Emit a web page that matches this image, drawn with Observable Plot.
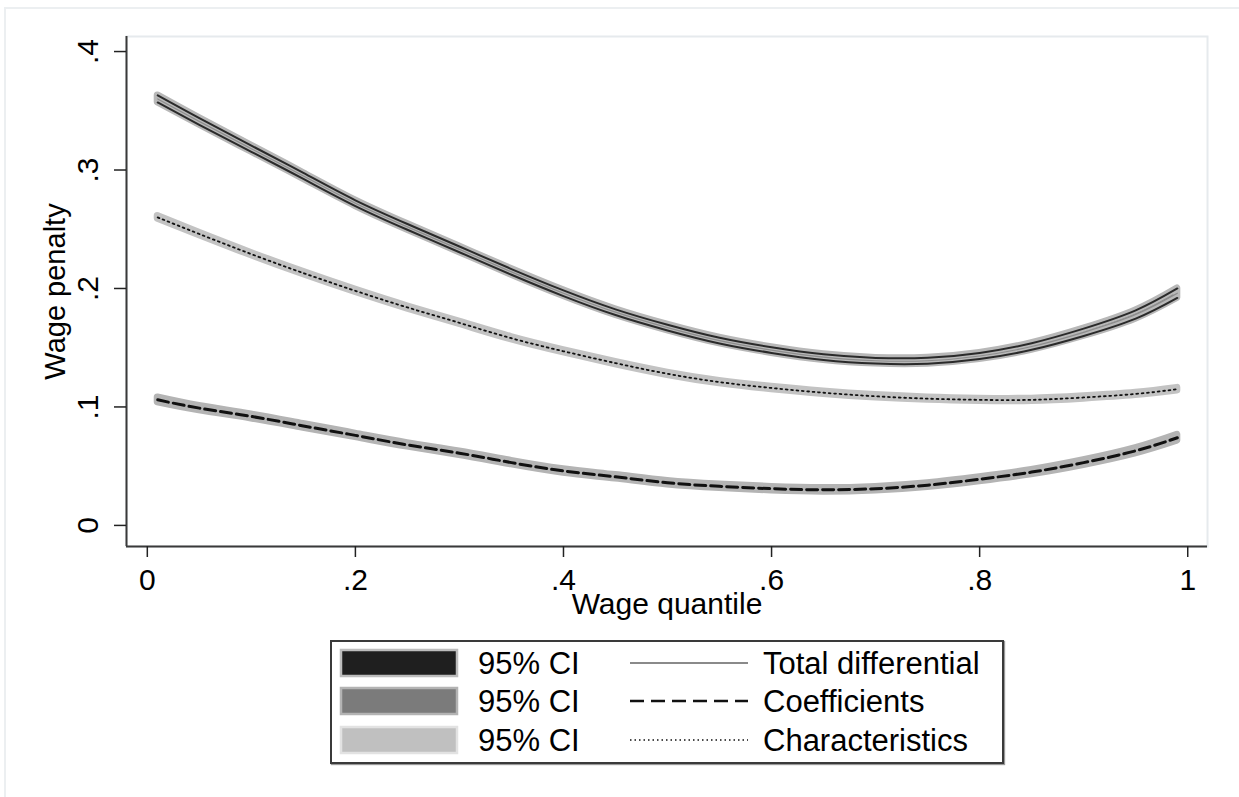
<!DOCTYPE html>
<html><head><meta charset="utf-8">
<script src="https://cdn.jsdelivr.net/npm/d3@7"></script>
<script src="https://cdn.jsdelivr.net/npm/@observablehq/plot@0.6"></script>
<style>
body{margin:0;background:#fff;font-family:"Liberation Sans",Arial,sans-serif;}
#wrap{position:relative;width:1239px;height:797px;overflow:hidden;background:#fff;}
#outer{position:absolute;left:4px;top:7px;width:1240px;height:800px;border:2px solid #eceff1;box-sizing:border-box;}
#chart{position:absolute;left:0;top:0;}
#legend{position:absolute;left:330px;top:640px;width:674px;height:124px;border:2px solid #3a3a3a;box-shadow:1px 1px 1px #999;box-sizing:border-box;background:#fff;}
#legend svg{position:absolute;left:-2px;top:-2px;overflow:visible;}
</style></head>
<body>
<div id="wrap"><div id="outer"></div><div id="chart"></div><div id="legend"></div></div>
<script>
// ---- data ----
const quantiles = [0.01,0.05,0.10,0.15,0.20,0.25,0.30,0.35,0.40,0.45,0.50,0.55,0.60,0.65,0.70,0.75,0.80,0.85,0.90,0.95,0.99];
const totalDifferential = [0.360,0.341,0.318,0.295,0.272,0.252,0.233,0.214,0.196,0.180,0.167,0.156,0.148,0.142,0.139,0.139,0.143,0.151,0.163,0.178,0.196];
const totalCI = [0.0030,0.0028,0.0026,0.0025,0.0024,0.0024,0.0024,0.0024,0.0024,0.0024,0.0024,0.0024,0.0024,0.0024,0.0024,0.0025,0.0026,0.0028,0.0031,0.0035,0.0040];
const coefficients = [0.106,0.099,0.092,0.084,0.076,0.068,0.061,0.053,0.046,0.041,0.036,0.033,0.031,0.030,0.031,0.034,0.039,0.045,0.053,0.063,0.074];
const coefficientsCI = [0.0020,0.0018,0.0017,0.0016,0.0015,0.0015,0.0015,0.0015,0.0015,0.0015,0.0015,0.0015,0.0015,0.0015,0.0015,0.0016,0.0017,0.0018,0.0020,0.0022,0.0025];
const characteristics = [0.260,0.246,0.229,0.213,0.198,0.184,0.171,0.158,0.147,0.137,0.128,0.121,0.116,0.112,0.109,0.107,0.106,0.106,0.108,0.111,0.115];
const characteristicsCI = [0.0011,0.0010,0.0010,0.0010,0.0010,0.0010,0.0010,0.0010,0.0010,0.0010,0.0010,0.0010,0.0010,0.0010,0.0010,0.0010,0.0010,0.0010,0.0010,0.0010,0.0011];
const xTicks = [0,0.2,0.4,0.6,0.8,1];
const yTicks = [0,0.1,0.2,0.3,0.4];
const xDomain = [-0.02,1.019];
const yDomain = [-0.0178,0.4127];
const legendRows = [
  {ci:"95% CI", label:"Total differential"},
  {ci:"95% CI", label:"Coefficients"},
  {ci:"95% CI", label:"Characteristics"}
];

const FONT = '"Liberation Sans", Arial, sans-serif';
const fmt = d => d === 0 ? "0" : d === 1 ? "1" : String(d).replace(/^0/, "");
const mk = (vals, ci) => quantiles.map((q,i) => ({q, v: vals[i], lo: vals[i]-ci[i], hi: vals[i]+ci[i]}));
const tot = mk(totalDifferential, totalCI);
const coef = mk(coefficients, coefficientsCI);
const chr = mk(characteristics, characteristicsCI);
const curve = "natural";

const chart = Plot.plot({
  width: 1239, height: 625,
  marginLeft: 126, marginRight: 32, marginTop: 36, marginBottom: 79,
  x: {domain: xDomain}, y: {domain: yDomain},
  style: {fontFamily: FONT, fontSize: "30px", background: "transparent", color: "#000"},
  marks: [
    Plot.frame({stroke: "#e6eaed", strokeWidth: 2}),
    // Coefficients band + dashed line
    Plot.areaY(coef, {x: "q", y1: "lo", y2: "hi", fill: "#adadad", stroke: "#b4b4b4", strokeWidth: 7, strokeLinejoin: "round", curve}),
    Plot.line(coef, {x: "q", y: "v", stroke: "#111", strokeWidth: 3, strokeDasharray: "11,5", curve}),
    // Characteristics band + dotted line
    Plot.areaY(chr, {x: "q", y1: "lo", y2: "hi", fill: "#c3c3c3", stroke: "#c3c3c3", strokeWidth: 7, strokeLinejoin: "round", curve}),
    Plot.line(chr, {x: "q", y: "v", stroke: "#111", strokeWidth: 1.8, strokeDasharray: "1.8,3.6", curve}),
    // Total differential band + solid line
    Plot.areaY(tot, {x: "q", y1: "lo", y2: "hi", fill: "#8a8a8a", stroke: "#b8b8b8", strokeWidth: 7, strokeLinejoin: "round", curve}),
    Plot.line(tot, {x: "q", y: "lo", stroke: "#2a2a2a", strokeWidth: 2, curve}),
    Plot.line(tot, {x: "q", y: "hi", stroke: "#2a2a2a", strokeWidth: 2, curve}),
    Plot.line(tot, {x: "q", y: "v", stroke: "#8c8c8c", strokeWidth: 1.2, curve}),
    // axes
    Plot.ruleX([xDomain[0]], {stroke: "#3a3a3a", strokeWidth: 2}),
    Plot.ruleY([yDomain[0]], {stroke: "#3a3a3a", strokeWidth: 2}),
    Plot.axisX({ticks: xTicks, tickSize: 11, tickFormat: () => "", stroke: "#222", strokeWidth: 1.5, label: null}),
    Plot.axisY({ticks: yTicks, tickSize: 12, tickFormat: () => "", stroke: "#222", strokeWidth: 1.5, label: null}),
    Plot.text(xTicks, {x: d => d, text: fmt, frameAnchor: "bottom", dy: 34, lineAnchor: "middle", textAnchor: "middle", fontSize: 30}),
    Plot.text(yTicks, {y: d => d, text: fmt, frameAnchor: "left", dx: -38, rotate: -90, lineAnchor: "middle", textAnchor: "middle", fontSize: 30}),
    Plot.text(["Wage quantile"], {frameAnchor: "bottom", dy: 58, lineAnchor: "middle", textAnchor: "middle", fontSize: 30}),
    Plot.text(["Wage penalty"], {frameAnchor: "left", dx: -71, rotate: -90, lineAnchor: "middle", textAnchor: "middle", fontSize: 29})
  ]
});
document.getElementById("chart").appendChild(chart);

// ---- legend ----
const swatches = [
  {fill: "#1f1f1f", stroke: "#bdbdbd"},
  {fill: "#7b7b7b", stroke: "#b3b3b3"},
  {fill: "#c0c0c0", stroke: "#e2e2e2"}
];
const lineStyles = [
  {stroke: "#8a8a8a", width: 2.2, dash: null},
  {stroke: "#111", width: 2.6, dash: "14,7"},
  {stroke: "#111", width: 1.3, dash: "1.5,3"}
];
const rowsY = [23, 61, 100];
const lsvg = d3.select("#legend").append("svg").attr("width", 674).attr("height", 124)
  .style("font-family", FONT).style("font-size", "31px");
legendRows.forEach((r, i) => {
  const g = lsvg.append("g").attr("transform", `translate(0,${rowsY[i]})`);
  g.append("rect").attr("x", 11).attr("y", -13).attr("width", 116).attr("height", 26)
    .attr("fill", swatches[i].fill).attr("stroke", swatches[i].stroke).attr("stroke-width", 2.5);
  g.append("text").attr("x", 148).attr("y", 0).attr("dy", "0.36em").text(r.ci);
  const ln = g.append("line").attr("x1", 300).attr("x2", 418).attr("y1", 0).attr("y2", 0)
    .attr("stroke", lineStyles[i].stroke).attr("stroke-width", lineStyles[i].width);
  if (lineStyles[i].dash) ln.attr("stroke-dasharray", lineStyles[i].dash);
  g.append("text").attr("x", 433).attr("y", 0).attr("dy", "0.36em").text(r.label);
});
</script>
</body></html>
